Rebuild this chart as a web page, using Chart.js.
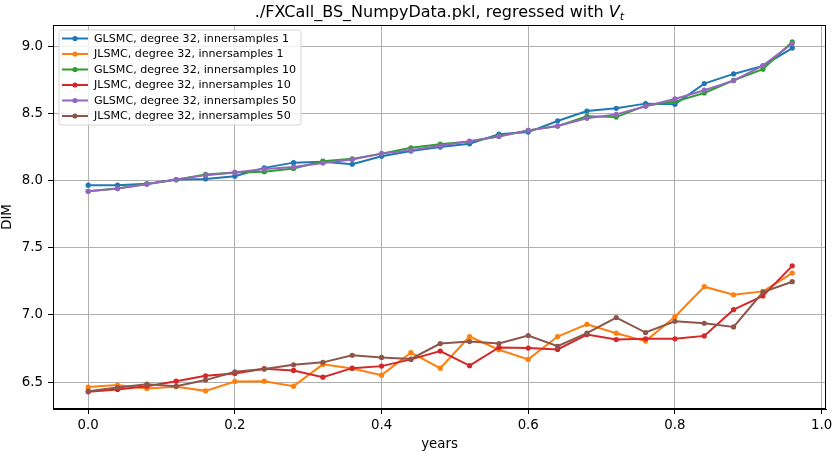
<!DOCTYPE html>
<html>
<head>
<meta charset="utf-8">
<script src="https://cdn.jsdelivr.net/npm/chart.js@4.4.1/dist/chart.umd.min.js"></script>
<style>
  html, body { margin: 0; padding: 0; background: #ffffff; }
  #wrap { width: 833px; height: 453px; position: relative; }
</style>
</head>
<body>
<div id="wrap"><canvas id="c"></canvas></div>
<script>
// ---- data ----
const years = [0.00, 0.04, 0.08, 0.12, 0.16, 0.20, 0.24, 0.28, 0.32, 0.36, 0.40, 0.44, 0.48,
               0.52, 0.56, 0.60, 0.64, 0.68, 0.72, 0.76, 0.80, 0.84, 0.88, 0.92, 0.96];

const glsmc1  = [7.965, 7.965, 7.975, 8.007, 8.012, 8.032, 8.094, 8.133, 8.139, 8.121, 8.181, 8.219, 8.249,
                 8.273, 8.345, 8.360, 8.443, 8.517, 8.537, 8.572, 8.567, 8.721, 8.793, 8.853, 8.985];
const jlsmc1  = [6.463, 6.478, 6.453, 6.465, 6.435, 6.505, 6.507, 6.470, 6.632, 6.602, 6.552, 6.719, 6.604,
                 6.839, 6.741, 6.669, 6.839, 6.930, 6.864, 6.805, 6.987, 7.210, 7.150, 7.175, 7.311];
const glsmc10 = [7.920, 7.940, 7.975, 8.005, 8.045, 8.060, 8.065, 8.090, 8.144, 8.161, 8.200, 8.243, 8.270,
                 8.290, 8.330, 8.373, 8.405, 8.478, 8.472, 8.557, 8.587, 8.651, 8.746, 8.828, 9.032];
const jlsmc10 = [6.428, 6.445, 6.470, 6.507, 6.547, 6.565, 6.600, 6.587, 6.537, 6.604, 6.619, 6.669, 6.731,
                 6.622, 6.758, 6.753, 6.743, 6.854, 6.817, 6.822, 6.822, 6.844, 7.039, 7.141, 7.365];
const glsmc50 = [7.920, 7.940, 7.972, 8.007, 8.040, 8.060, 8.085, 8.100, 8.130, 8.157, 8.200, 8.226, 8.258,
                 8.293, 8.328, 8.373, 8.405, 8.463, 8.492, 8.552, 8.607, 8.672, 8.743, 8.855, 9.019];
const jlsmc50 = [6.433, 6.460, 6.485, 6.470, 6.515, 6.577, 6.597, 6.629, 6.647, 6.700, 6.684, 6.672, 6.787,
                 6.802, 6.787, 6.847, 6.767, 6.864, 6.980, 6.869, 6.953, 6.938, 6.911, 7.170, 7.247];

const seriesLabels = [
  "GLSMC, degree 32, innersamples 1",
  "JLSMC, degree 32, innersamples 1",
  "GLSMC, degree 32, innersamples 10",
  "JLSMC, degree 32, innersamples 10",
  "GLSMC, degree 32, innersamples 50",
  "JLSMC, degree 32, innersamples 50"
];
const seriesValues = [glsmc1, jlsmc1, glsmc10, jlsmc10, glsmc50, jlsmc50];
const seriesColors = ["#1f77b4", "#ff7f0e", "#2ca02c", "#d62728", "#9467bd", "#8c564b"];

const xTicks = [0.0, 0.2, 0.4, 0.6, 0.8, 1.0];
const yTicks = [6.5, 7.0, 7.5, 8.0, 8.5, 9.0];
const titleMain = "./FXCall_BS_NumpyData.pkl, regressed with ";
const titleVar = "V";
const titleSub = "t";
const xTitle = "years";
const yTitle = "DIM";

// ---- chart ----
const FONT = '"DejaVu Sans", "Liberation Sans", sans-serif';

const datasets = seriesValues.map((vals, i) => ({
  label: seriesLabels[i],
  data: years.map((x, k) => ({ x: x, y: vals[k] })),
  borderColor: seriesColors[i],
  backgroundColor: seriesColors[i],
  borderWidth: 2,
  pointRadius: 2.6,
  pointHoverRadius: 2.6,
  pointBorderWidth: 0,
  pointBackgroundColor: seriesColors[i],
  tension: 0,
  fill: false,
  order: seriesValues.length - 1 - i
}));

const framePlugin = {
  id: 'mplFrame',
  afterDraw(chart) {
    const ctx = chart.ctx, a = chart.chartArea;
    ctx.save();
    ctx.strokeStyle = '#000000';
    ctx.lineWidth = 1;
    ctx.strokeRect(Math.round(a.left) + 0.5, Math.round(a.top) + 0.5,
                   Math.round(a.right - a.left) - 1, Math.round(a.bottom - a.top) - 1);
    ctx.restore();

    // title
    ctx.save();
    ctx.fillStyle = '#000000';
    ctx.textBaseline = 'alphabetic';
    const mainFont = '16px ' + FONT;
    const varFont = 'oblique 16px ' + FONT;
    const subFont = 'oblique 11.2px ' + FONT;
    ctx.font = mainFont; const w1 = ctx.measureText(titleMain).width;
    ctx.font = varFont;  const w2 = ctx.measureText(titleVar).width;
    ctx.font = subFont;  const w3 = ctx.measureText(titleSub).width;
    const total = w1 + w2 + w3;
    let x = (a.left + a.right) / 2 - total / 2;
    const base = 17;
    ctx.textAlign = 'left';
    ctx.font = mainFont; ctx.fillText(titleMain, x, base); x += w1;
    ctx.font = varFont;  ctx.fillText(titleVar, x, base); x += w2;
    ctx.font = subFont;  ctx.fillText(titleSub, x, base + 3);
    ctx.restore();

    // legend
    const x0 = a.left + 6, y0 = a.top + 5, w = 242, h = 95, r = 2.5;
    ctx.save();
    ctx.beginPath();
    ctx.moveTo(x0 + r, y0);
    ctx.lineTo(x0 + w - r, y0);
    ctx.quadraticCurveTo(x0 + w, y0, x0 + w, y0 + r);
    ctx.lineTo(x0 + w, y0 + h - r);
    ctx.quadraticCurveTo(x0 + w, y0 + h, x0 + w - r, y0 + h);
    ctx.lineTo(x0 + r, y0 + h);
    ctx.quadraticCurveTo(x0, y0 + h, x0, y0 + h - r);
    ctx.lineTo(x0, y0 + r);
    ctx.quadraticCurveTo(x0, y0, x0 + r, y0);
    ctx.closePath();
    ctx.fillStyle = 'rgba(255,255,255,0.8)';
    ctx.fill();
    ctx.strokeStyle = 'rgba(204,204,204,0.8)';
    ctx.lineWidth = 1;
    ctx.stroke();
    ctx.font = '11.1px ' + FONT;
    ctx.textBaseline = 'middle';
    ctx.textAlign = 'left';
    chart.data.datasets.forEach((ds, i) => {
      const cy = y0 + 8.5 + i * 15.5;
      ctx.strokeStyle = ds.borderColor;
      ctx.lineWidth = 2;
      ctx.beginPath();
      ctx.moveTo(x0 + 3, cy);
      ctx.lineTo(x0 + 29, cy);
      ctx.stroke();
      ctx.fillStyle = ds.borderColor;
      ctx.beginPath();
      ctx.arc(x0 + 16, cy, 2.6, 0, Math.PI * 2);
      ctx.fill();
      ctx.fillStyle = '#000000';
      ctx.fillText(ds.label, x0 + 35, cy + 0.5);
    });
    ctx.restore();
  }
};

new Chart(document.getElementById('c'), {
  type: 'line',
  data: { datasets: datasets },
  plugins: [framePlugin],
  options: {
    responsive: true,
    maintainAspectRatio: false,
    animation: false,
    events: [],
    layout: { padding: { top: 25, right: 7, left: 0, bottom: 0 } },
    plugins: {
      legend: { display: false },
      title: { display: false },
      tooltip: { enabled: false }
    },
    scales: {
      x: {
        type: 'linear',
        min: -0.048,
        max: 1.006,
        afterBuildTicks(scale) { scale.ticks = xTicks.map(v => ({ value: v })); },
        afterFit(scale) { scale.height = 44; scale.paddingLeft = 0; scale.paddingRight = 0; },
        ticks: {
          callback: v => Number(v).toFixed(1),
          color: '#000000',
          font: { family: FONT, size: 13.33 },
          padding: 4,
          maxRotation: 0,
          autoSkip: false
        },
        grid: { color: '#b0b0b0', lineWidth: 1, tickColor: '#000000', tickLength: 5, tickWidth: 1 },
        border: { display: true, color: '#000000', width: 1 },
        title: { display: true, text: xTitle, color: '#000000',
                 font: { family: FONT, size: 13.33 }, padding: { top: 0, bottom: 0 } }
      },
      y: {
        type: 'linear',
        min: 6.30,
        max: 9.157,
        afterBuildTicks(scale) { scale.ticks = yTicks.map(v => ({ value: v })); },
        afterFit(scale) { scale.width = 53; scale.paddingTop = 0; scale.paddingBottom = 0; },
        ticks: {
          callback: v => Number(v).toFixed(1),
          color: '#000000',
          font: { family: FONT, size: 13.33 },
          padding: 5,
          autoSkip: false
        },
        grid: { color: '#b0b0b0', lineWidth: 1, tickColor: '#000000', tickLength: 5, tickWidth: 1 },
        border: { display: true, color: '#000000', width: 1 },
        title: { display: true, text: yTitle, color: '#000000',
                 font: { family: FONT, size: 13.33 }, padding: { top: 0, bottom: 0 } }
      }
    }
  }
});
</script>
</body>
</html>
